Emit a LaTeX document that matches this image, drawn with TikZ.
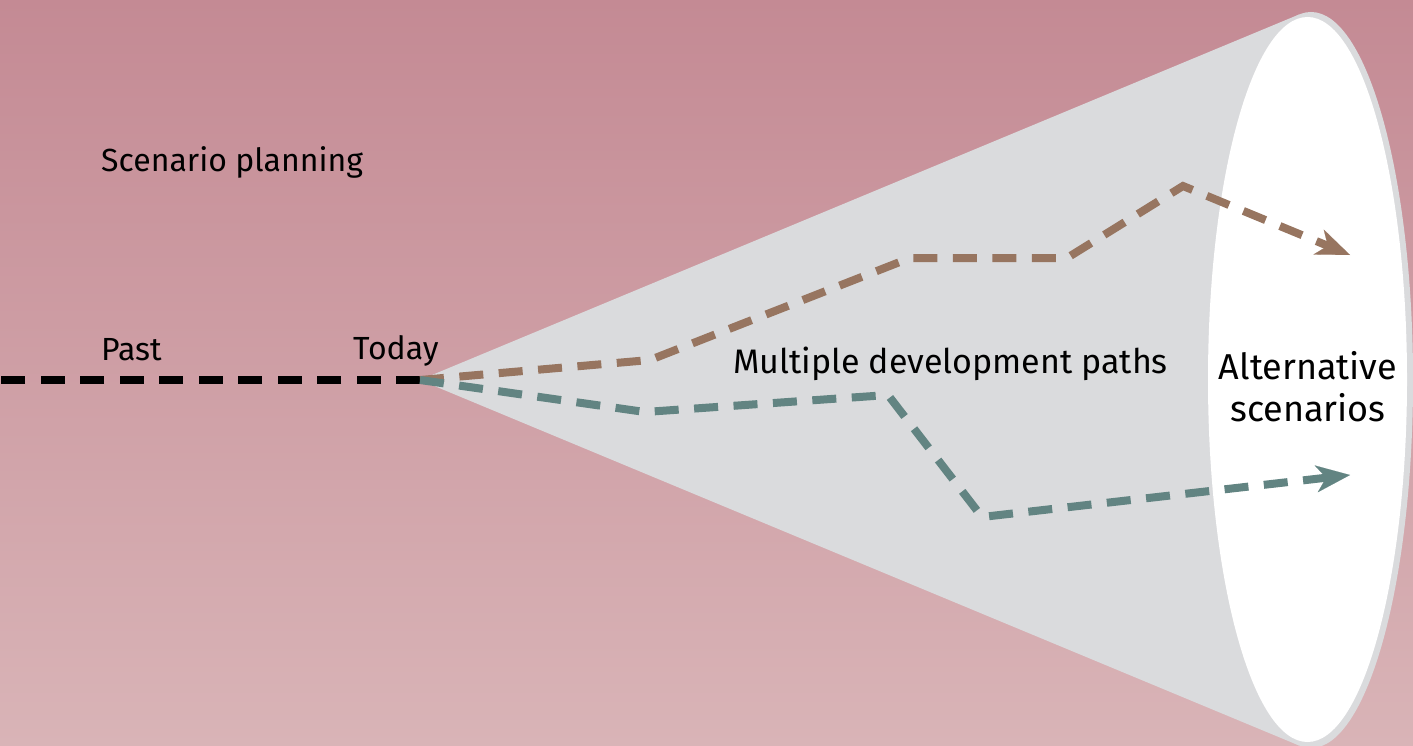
\documentclass[tikz,border=0pt]{standalone}
\usepackage{fontspec}
\setmainfont{Fira Sans}
\usetikzlibrary{arrows.meta}
\definecolor{bgtop}{HTML}{C48A94}
\definecolor{bgbottom}{HTML}{D9B4B7}
\definecolor{conegray}{HTML}{DADBDD}
\definecolor{pathbrown}{HTML}{977560}
\definecolor{pathteal}{HTML}{628482}
\begin{document}
\begin{tikzpicture}[x=1pt,y=-1pt,
  dashline/.style={line width=8pt, dash pattern=on 24pt off 15.5pt},
  tip/.style={-{Stealth[length=34pt,width=27pt,inset=10pt,line width=0.1pt]}},
  txt/.style={anchor=base west, inner sep=0pt, font=\fontsize{32}{40}\selectfont}]
  \useasboundingbox (0,0) rectangle (1413,746);
  \shade[top color=bgtop, bottom color=bgbottom] (0,0) rectangle (1413,746);
  \fill[conegray] (420,380) -- (1299.3,14.4) -- (1299.3,745.6) -- cycle;
  \fill[conegray] (1311,380) ellipse [x radius=102, y radius=368];
  \fill[white] (1307.5,379.5) ellipse [x radius=99.5, y radius=362.5];
  \coordinate (now) at (420,380);
  \coordinate (start) at (0,380);
  \coordinate (b1) at (650,360);
  \coordinate (b2) at (910,258);
  \coordinate (b3) at (1067,258);
  \coordinate (b4) at (1183,186);
  \coordinate (b5) at (1350,255);
  \coordinate (t1) at (645,412);
  \coordinate (t2) at (888,395);
  \coordinate (t3) at (982,517);
  \coordinate (t4) at (1350,475);
  \draw[dashline, black] (now) -- (start);
  \draw[dashline, pathbrown, tip] (now) -- (b1) -- (b2) -- (b3) -- (b4) -- (b5);
  \draw[dashline, pathteal, tip] (now) -- (t1) -- (t2) -- (t3) -- (t4);
  \node[txt] (title) at (101,172) {Scenario planning};
  \node[txt] (past) at (101,360) {Past};
  \node[txt] (today) at (353,359) {Today};
  \node[txt, font=\fontsize{34}{40}\selectfont] (paths) at (733,373) {Multiple development paths};
  \node[txt, anchor=north, align=center, font=\fontsize{36}{42}\selectfont] (alt) at (1308,351) {Alternative\\scenarios};
\end{tikzpicture}
\end{document}
